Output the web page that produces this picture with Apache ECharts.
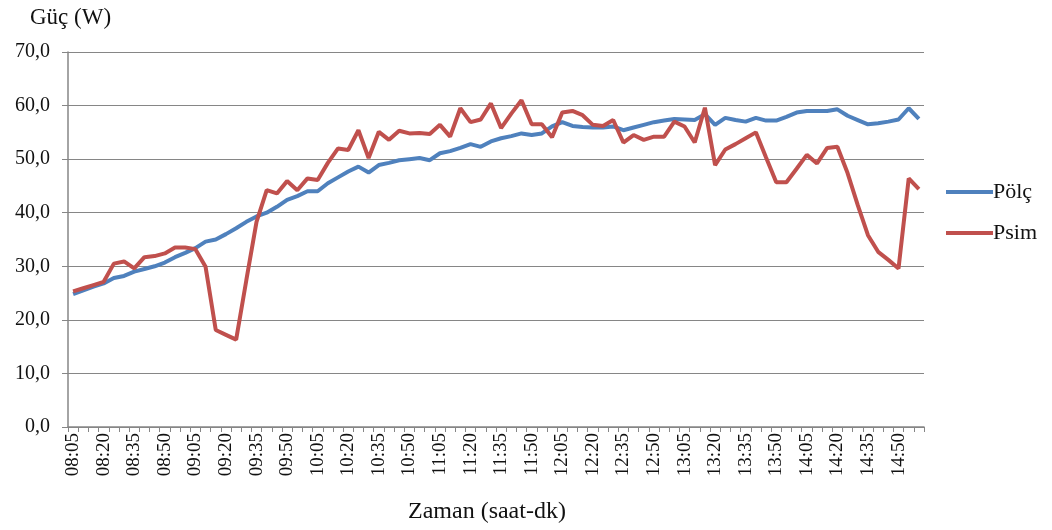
<!DOCTYPE html>
<html>
<head>
<meta charset="utf-8">
<script src="https://cdn.jsdelivr.net/npm/echarts@6/dist/echarts.min.js"></script>
<style>
  html, body { margin: 0; padding: 0; background: #fff; }
  #chart { width: 1052px; height: 530px; }
</style>
</head>
<body>
<div id="chart"></div>
<script>
// Time of day (hour:minute), 5-minute steps
const times = [
  '08:05','08:10','08:15','08:20','08:25','08:30','08:35','08:40','08:45','08:50',
  '08:55','09:00','09:05','09:10','09:15','09:20','09:25','09:30','09:35','09:40',
  '09:45','09:50','09:55','10:00','10:05','10:10','10:15','10:20','10:25','10:30',
  '10:35','10:40','10:45','10:50','10:55','11:00','11:05','11:10','11:15','11:20',
  '11:25','11:30','11:35','11:40','11:45','11:50','11:55','12:00','12:05','12:10',
  '12:15','12:20','12:25','12:30','12:35','12:40','12:45','12:50','12:55','13:00',
  '13:05','13:10','13:15','13:20','13:25','13:30','13:35','13:40','13:45','13:50',
  '13:55','14:00','14:05','14:10','14:15','14:20','14:25','14:30','14:35','14:40',
  '14:45','14:50','14:55','15:00'
];

// Measured power (W)
const polc = [
  24.8, 25.5, 26.2, 26.8, 27.8, 28.2, 29.0, 29.5, 30.0, 30.7,
  31.7, 32.5, 33.4, 34.6, 35.0, 36.0, 37.1, 38.3, 39.3, 40.0,
  41.1, 42.4, 43.1, 44.0, 44.0, 45.5, 46.6, 47.7, 48.6, 47.5,
  48.9, 49.3, 49.8, 50.0, 50.2, 49.8, 51.1, 51.5, 52.1, 52.8,
  52.3, 53.3, 53.9, 54.3, 54.8, 54.5, 54.8, 56.1, 56.9, 56.2,
  56.0, 55.9, 55.9, 56.1, 55.4, 55.9, 56.4, 56.9, 57.2, 57.5,
  57.4, 57.3, 58.4, 56.4, 57.7, 57.3, 57.0, 57.7, 57.2, 57.2,
  57.9, 58.7, 59.0, 59.0, 59.0, 59.3, 58.1, 57.3, 56.5, 56.7,
  57.0, 57.4, 59.5, 57.5
];

// Simulated power (W)
const psim = [
  25.3, 25.9, 26.5, 27.1, 30.5, 30.9, 29.6, 31.7, 31.9, 32.4,
  33.5, 33.5, 33.2, 29.9, 18.1, 17.2, 16.3, 27.4, 38.3, 44.2,
  43.6, 45.9, 44.2, 46.4, 46.1, 49.3, 52.0, 51.7, 55.4, 50.2,
  55.1, 53.6, 55.3, 54.8, 54.9, 54.7, 56.4, 54.2, 59.5, 56.9,
  57.4, 60.4, 55.8, 58.5, 61.0, 56.5, 56.5, 54.1, 58.7, 59.0,
  58.2, 56.4, 56.2, 57.3, 53.1, 54.5, 53.6, 54.2, 54.2, 57.0,
  56.1, 53.1, 59.6, 48.9, 51.8, 52.8, 53.9, 55.0, 50.3, 45.7,
  45.7, 48.2, 50.8, 49.2, 52.1, 52.3, 47.4, 41.4, 35.8, 32.7,
  31.2, 29.6, 46.4, 44.4
];

const seriesNames = ['Pölç', 'Psim'];
const seriesColors = ['#4F81BD', '#C0504D'];

const FONT = 'Liberation Serif';
const AXIS_GRAY = '#868686';

const chart = echarts.init(document.getElementById('chart'), null, { renderer: 'canvas' });

chart.setOption({
  backgroundColor: '#ffffff',
  animation: false,
  title: [
    {
      text: 'Güç (W)',
      left: 25, top: 1,
      textStyle: { fontFamily: FONT, fontSize: 23, fontWeight: 'normal', color: '#111' }
    },
    {
      text: 'Zaman (saat-dk)',
      left: 403, top: 495,
      textStyle: { fontFamily: FONT, fontSize: 24, fontWeight: 'normal', color: '#111' }
    }
  ],
  legend: {
    orient: 'vertical',
    left: 941,
    top: 176,
    itemWidth: 47,
    itemHeight: 4,
    itemGap: 19,
    icon: 'rect',
    data: seriesNames,
    textStyle: { fontFamily: FONT, fontSize: 22, color: '#111', lineHeight: 20, padding: [0, 0, 0, -5] }
  },
  grid: { left: 68, right: 128, top: 52, bottom: 103, containLabel: false },
  xAxis: {
    type: 'category',
    data: times,
    boundaryGap: true,
    axisLine: { show: true, lineStyle: { color: AXIS_GRAY, width: 1.5 } },
    axisTick: { show: true, interval: 0, length: 5, lineStyle: { color: AXIS_GRAY, width: 1 } },
    axisLabel: {
      interval: 2,
      rotate: 90,
      margin: 6,
      fontFamily: FONT,
      fontSize: 19,
      color: '#111'
    },
    splitLine: { show: false }
  },
  yAxis: {
    type: 'value',
    min: 0,
    max: 70,
    interval: 10,
    axisLine: { show: true, lineStyle: { color: AXIS_GRAY, width: 1.5 } },
    axisTick: { show: true, length: 6, lineStyle: { color: AXIS_GRAY, width: 1 } },
    axisLabel: {
      margin: 18,
      fontFamily: FONT,
      fontSize: 20,
      color: '#111',
      formatter: v => v.toFixed(1).replace('.', ',')
    },
    splitLine: { show: true, lineStyle: { color: AXIS_GRAY, width: 1 } }
  },
  series: [
    {
      name: seriesNames[0],
      type: 'line',
      data: polc,
      symbol: 'none',
      color: seriesColors[0],
      lineStyle: { width: 4, color: seriesColors[0] }
    },
    {
      name: seriesNames[1],
      type: 'line',
      data: psim,
      symbol: 'none',
      color: seriesColors[1],
      lineStyle: { width: 4, color: seriesColors[1] }
    }
  ]
});
</script>
</body>
</html>
